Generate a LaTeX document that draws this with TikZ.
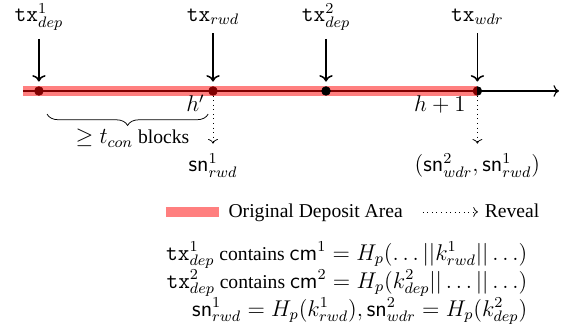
\documentclass[tikz,border=0pt]{standalone}
\usepackage{fontspec}
\setmainfont{Liberation Serif}[Scale=0.86]
\usetikzlibrary{arrows.meta,positioning,decorations.pathreplacing}

\tikzset{
  dot/.style={draw,circle,fill=black,inner sep=1.6pt},
  band/.style={red,opacity=.5,line width=5pt},
  reveal/.style={->,dotted},
}

\begin{document}
\begin{tikzpicture}[font=\large]
\useasboundingbox (0,0) rectangle (10.58,6.16);
% time line
\coordinate (start) at (0.425,4.477);
\coordinate (end) at (10.34,4.477);
\draw[->,semithick] (start) -- (end);
\node[dot] (d1) at (0.72,4.477) {};
\node[dot] (d2) at (3.94,4.477) {};
\node[dot] (d4) at (8.83,4.477) {};
\draw[band] (start) -- (d4.center);
\node[dot] (d3) at (6.03,4.477) {};
% transactions
\node (t1) at (0.72,5.85) {$\mathtt{tx}^1_{dep}$};
\node (t2) at (3.94,5.85) {$\mathtt{tx}_{rwd}$};
\node (t3) at (6.03,5.85) {$\mathtt{tx}^2_{dep}$};
\node (t4) at (8.83,5.85) {$\mathtt{tx}_{wdr}$};
\foreach \i in {1,...,4}
  \draw[->,thick,shorten <=1.5pt,shorten >=2.5pt] (t\i) -- (d\i);
% heights
\node[anchor=base east] (hp) at (3.89,4.09) {$h'$};
\node[anchor=base east] (h1) at (8.72,4.09) {$h+1$};
\draw[decorate,decoration={brace,mirror,amplitude=6pt}] (0.87,4.05) -- (3.85,4.05);
\node[anchor=base] (blk) at (2.45,3.5) {$\geq t_{con}$ blocks};
% reveals
\node[anchor=base] (s1) at (3.94,2.99) {$\mathsf{sn}^1_{rwd}$};
\node[anchor=base] (s2) at (8.83,2.99) {$(\mathsf{sn}^2_{wdr},\mathsf{sn}^1_{rwd})$};
\draw[reveal,shorten >=2pt] (d2) -- (s1);
\draw[reveal,shorten >=2pt] (d4) -- (s2);
% legend
\coordinate (la) at (3.07,2.24);
\coordinate (lb) at (4.05,2.24);
\draw[band] (la) -- (lb);
\node[anchor=base west] (ltext) at (4.12,2.13) {Original Deposit Area};
\coordinate (ra) at (7.82,2.24);
\coordinate (rb) at (8.84,2.24);
\draw[reveal] (ra) -- (rb);
\node[anchor=base west] (rtext) at (8.86,2.13) {Reveal};
% equations
\node[anchor=base east] (eq1) at (9.86,1.35) {$\mathtt{tx}^1_{dep}$ contains $\mathsf{cm}^1 = H_p(\ldots||k^1_{rwd}||\ldots)$};
\node[anchor=base east] (eq2) at (9.86,0.83) {$\mathtt{tx}^2_{dep}$ contains $\mathsf{cm}^2 = H_p(k^2_{dep}||\ldots||\ldots)$};
\node[anchor=base east] (eq3) at (9.86,0.31) {$\mathsf{sn}^1_{rwd} = H_p(k^1_{rwd}), \mathsf{sn}^2_{wdr} = H_p(k^2_{dep})$};
\end{tikzpicture}
\end{document}
